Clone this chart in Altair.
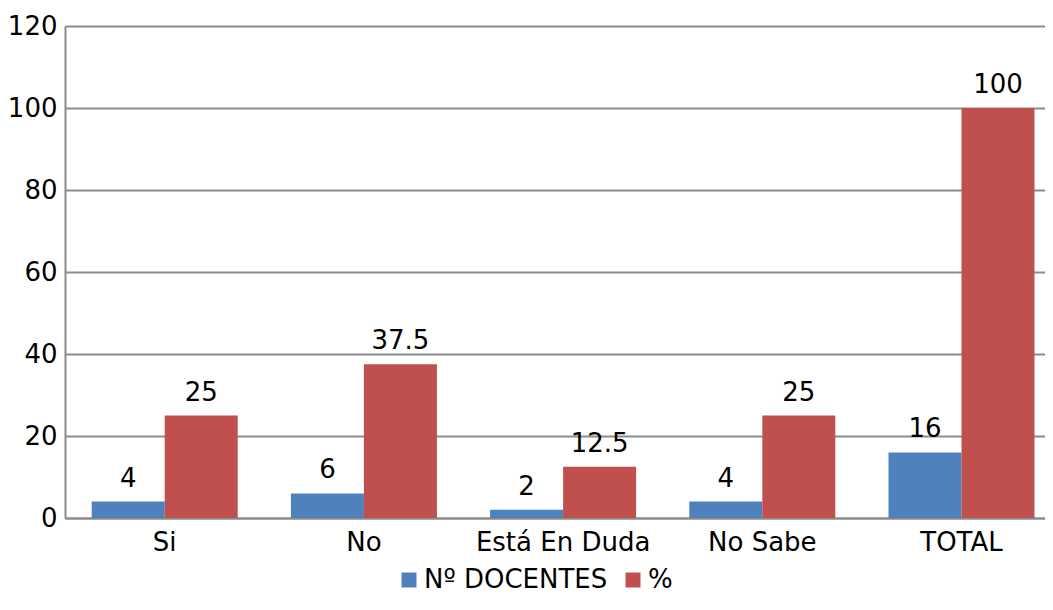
import altair as alt
import pandas as pd

categories = ["Si", "No", "Está En Duda", "No Sabe", "TOTAL"]
docentes = [4, 6, 2, 4, 16]
porcentaje = [25, 37.5, 12.5, 25, 100]
series = ["Nº DOCENTES", "%"]
colors = ["#4F81BD", "#C0504D"]

rows = []
for c, d, p in zip(categories, docentes, porcentaje):
    rows.append({"cat": c, "serie": series[0], "val": d, "lab": f"{d:g}"})
    rows.append({"cat": c, "serie": series[1], "val": p, "lab": f"{p:g}"})
df = pd.DataFrame(rows)

FONT = "DejaVu Sans"
FS = 26
GRID = "#8c8c8c"

x = alt.X("cat:N", sort=categories, title=None,
          scale=alt.Scale(paddingInner=0.267, paddingOuter=0.0934, align=0.718),
          axis=alt.Axis(labelAngle=0, ticks=False, domainColor=GRID, domainWidth=2,
                        labelFont=FONT, labelFontSize=FS, labelColor="black", labelPadding=11))
xo = alt.XOffset("serie:N", sort=series, scale=alt.Scale(paddingInner=0, paddingOuter=0))
y = alt.Y("val:Q", title=None,
          scale=alt.Scale(domain=[0, 120], nice=False),
          axis=alt.Axis(values=[0, 20, 40, 60, 80, 100, 120], ticks=False,
                        domainColor=GRID, domainWidth=2,
                        gridColor=GRID, gridWidth=2,
                        labelFont=FONT, labelFontSize=FS, labelColor="black", labelPadding=8))

base = alt.Chart(df).encode(x=x, xOffset=xo)

bars = base.mark_bar().encode(
    y=y,
    color=alt.Color("serie:N", sort=series, title=None,
                    scale=alt.Scale(domain=series, range=colors),
                    legend=alt.Legend(orient="none", legendX=331, legendY=541, direction="horizontal",
                                      padding=0, symbolType="square", symbolSize=225, symbolStrokeWidth=0,
                                      labelFont=FONT, labelFontSize=FS, labelColor="black",
                                      labelLimit=400, columnPadding=12, labelOffset=2)),
)

labels = base.mark_text(font=FONT, fontSize=FS, color="black", dy=-15, baseline="alphabetic").encode(
    y=alt.Y("val:Q"),
    text="lab:N",
)

chart = (bars + labels).properties(
    width=980, height=492,
    autosize=alt.AutoSizeParams(type="none"),
    padding={"left": 57, "top": 18, "right": 0, "bottom": 76},
).configure_view(stroke=None).configure(font=FONT)

chart.save("out.html", embed_options={"renderer": "svg", "actions": False})
